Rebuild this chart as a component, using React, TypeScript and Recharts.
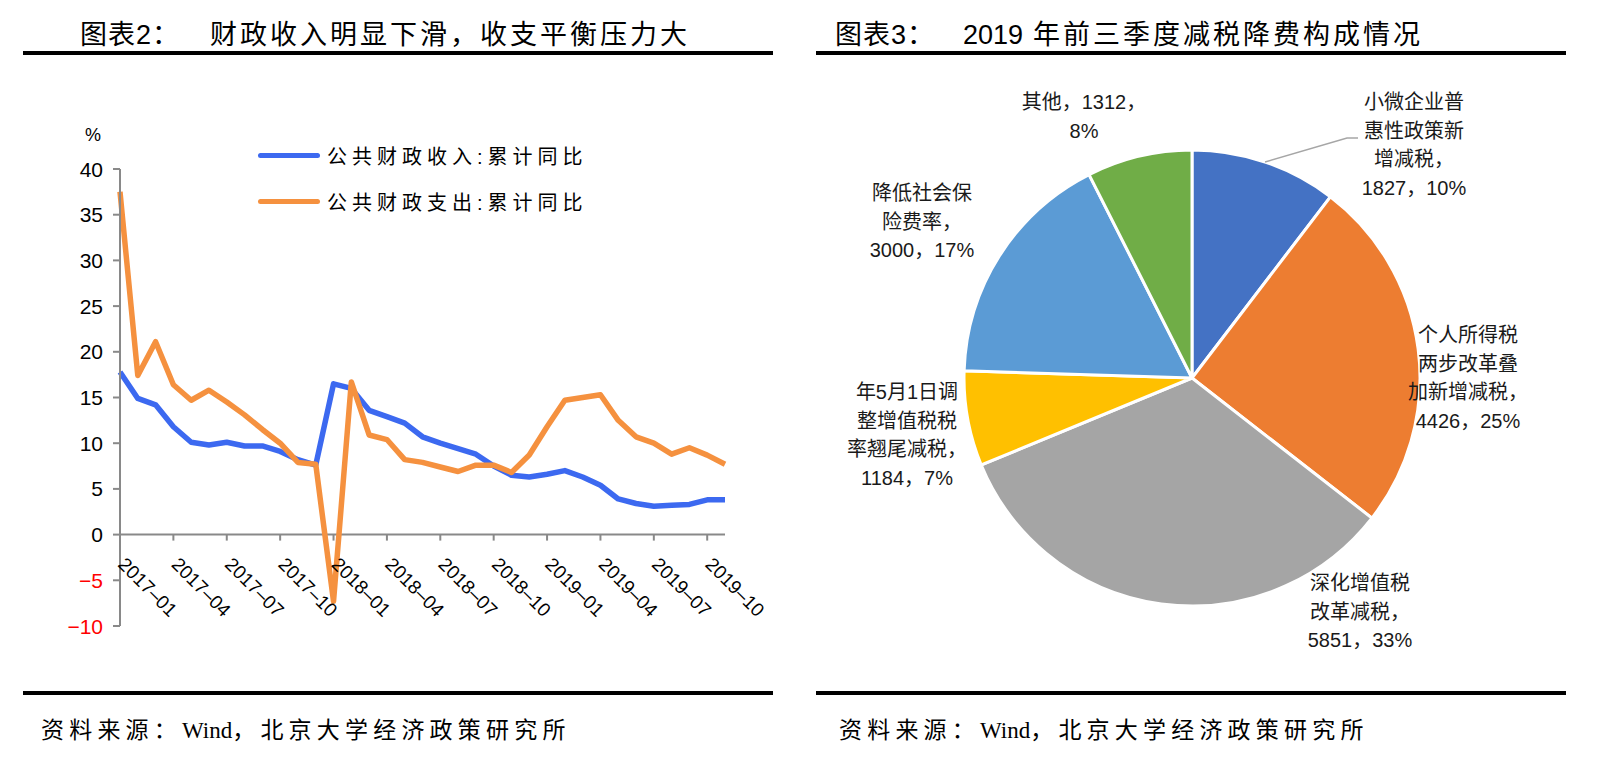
import { LineChart, Line, XAxis, YAxis, ReferenceLine, Legend, PieChart, Pie, Cell } from "recharts";

// ---- left chart: fiscal revenue / expenditure, cumulative yoy (%) ----
const MONTHS = [
  "2017-01", "2017-02", "2017-03", "2017-04", "2017-05", "2017-06", "2017-07", "2017-08", "2017-09", "2017-10", "2017-11", "2017-12",
  "2018-01", "2018-02", "2018-03", "2018-04", "2018-05", "2018-06", "2018-07", "2018-08", "2018-09", "2018-10", "2018-11", "2018-12",
  "2019-01", "2019-02", "2019-03", "2019-04", "2019-05", "2019-06", "2019-07", "2019-08", "2019-09", "2019-10", "2019-11",
];
const REVENUE_YOY = [
  17.8, 14.9, 14.2, 11.8, 10.1, 9.8, 10.1, 9.7, 9.7, 9.1, 8.2, 7.6,
  16.5, 16.0, 13.6, 12.9, 12.2, 10.7, 10.0, 9.4, 8.8, 7.5, 6.5, 6.3,
  6.6, 7.0, 6.3, 5.4, 3.9, 3.4, 3.1, 3.2, 3.3, 3.8, 3.8,
];
const EXPENDITURE_YOY = [
  37.5, 17.4, 21.1, 16.4, 14.7, 15.8, 14.5, 13.1, 11.5, 10.0, 7.9, 7.7,
  -7.3, 16.7, 10.9, 10.4, 8.2, 7.9, 7.4, 6.9, 7.6, 7.6, 6.8, 8.7,
  11.8, 14.7, 15.0, 15.3, 12.5, 10.7, 10.0, 8.8, 9.5, 8.7, 7.7,
];
const Y_TICKS = [-10, -5, 0, 5, 10, 15, 20, 25, 30, 35, 40];
const SERIES_NAMES = ["公共财政收入:累计同比", "公共财政支出:累计同比"];

// ---- right chart: 2019 Q1-Q3 tax & fee cuts ----
const PIE_VALUES = [1827, 4426, 5851, 1184, 3000, 1312];
const PIE_PERCENTS = [10, 25, 33, 7, 17, 8];
const PIE_NAME_LINES = [
  ["小微企业普", "惠性政策新", "增减税，"],
  ["个人所得税", "两步改革叠", "加新增减税，"],
  ["深化增值税", "改革减税，"],
  ["年5月1日调", "整增值税税", "率翘尾减税，"],
  ["降低社会保", "险费率，"],
  ["其他，"],
];
const PIE_COLORS = ["#4472C4", "#ED7D31", "#A5A5A5", "#FFC000", "#5B9BD5", "#70AD47"];

const FONT = '"Liberation Sans", "Noto Sans CJK SC", sans-serif';
const AXIS = "#898989";

// plot box of the line chart (px inside its svg)
const PLOT_TOP = 169;
const PLOT_BOTTOM = 626;
const Y_MIN = -10;
const Y_MAX = 40;
const ZERO_Y = PLOT_TOP + (Y_MAX / (Y_MAX - Y_MIN)) * (PLOT_BOTTOM - PLOT_TOP);

const lineData = MONTHS.map((m, i) => ({
  month: m,
  revenue: REVENUE_YOY[i],
  expenditure: EXPENDITURE_YOY[i],
}));

const pieData = PIE_VALUES.map((v, i) => ({ name: PIE_NAME_LINES[i].join(""), value: v }));

// label centre offsets from pie centre (x, first-line y)
const PIE_LABEL_POS: [number, number][] = [
  [222, -276],
  [276, -43],
  [168, 205],
  [-285, 14],
  [-270, -185],
  [-108, -276],
];
const LABEL_LINE_H = 28.5;

function MonthTick(props: any) {
  const { x, payload } = props;
  const ax = x - 3;
  const ay = ZERO_Y + 31;
  return (
    <g>
      <line x1={x} y1={ZERO_Y} x2={x} y2={ZERO_Y + 6} stroke={AXIS} strokeWidth={2} />
      <text
        x={ax}
        y={ay}
        transform={`rotate(45, ${ax}, ${ay})`}
        fontSize={19}
        fontFamily={FONT}
        fill="#000"
        textAnchor="start"
      >
        {String(payload.value).replace("-", "–")}
      </text>
    </g>
  );
}

function ValueTick(props: any) {
  const { x, y, payload } = props;
  return (
    <text
      x={x}
      y={y}
      textAnchor="end"
      dominantBaseline="central"
      fontSize={21}
      fontFamily={FONT}
      fill={payload.value < 0 ? "#FF0000" : "#000"}
    >
      {payload.value < 0 ? `−${Math.abs(payload.value)}` : payload.value}
    </text>
  );
}

function renderLegend({ payload }: any) {
  // keep series order (Recharts sorts legend items by name otherwise)
  const items = [...(payload || [])].sort(
    (a: any, b: any) => SERIES_NAMES.indexOf(a.value) - SERIES_NAMES.indexOf(b.value)
  );
  return (
    <div style={{ fontFamily: FONT }}>
      {items.map((entry: any) => (
        <div key={entry.value} style={{ display: "flex", alignItems: "center", height: 46 }}>
          <span
            style={{
              display: "inline-block",
              width: 62,
              height: 5,
              borderRadius: 3,
              background: entry.color,
              marginRight: 7,
            }}
          />
          <span style={{ fontSize: 20, letterSpacing: 5, color: "#000" }}>{entry.value}</span>
        </div>
      ))}
    </div>
  );
}

function pieLabelLines(i: number): string[] {
  const names = PIE_NAME_LINES[i];
  if (names.length === 1) {
    return [`${names[0]}${PIE_VALUES[i]}，`, `${PIE_PERCENTS[i]}%`];
  }
  return [...names, `${PIE_VALUES[i]}，${PIE_PERCENTS[i]}%`];
}

function renderPieLabel(props: any) {
  const { cx, cy, midAngle, outerRadius, index } = props;
  const [ox, oy] = PIE_LABEL_POS[index];
  const lines = pieLabelLines(index);
  const rad = (Math.PI / 180) * midAngle;
  // only the first slice gets a leader line in the original
  const leader =
    index === 0 ? (
      <polyline
        points={`${cx + outerRadius * Math.cos(rad)},${cy - outerRadius * Math.sin(rad)} ${cx + 155},${cy - 240} ${cx + 166},${cy - 240}`}
        fill="none"
        stroke="#A6A6A6"
        strokeWidth={1.5}
      />
    ) : null;
  return (
    <g key={`lbl-${index}`}>
      {leader}
      <text textAnchor="middle" fontSize={20} fontFamily={FONT} fill="#1a1a1a">
        {lines.map((l, k) => (
          <tspan key={k} x={cx + ox} y={cy + oy + k * LABEL_LINE_H} dominantBaseline="central">
            {l}
          </tspan>
        ))}
      </text>
    </g>
  );
}

const bar = (left: number, top: number, width: number) => (
  <div style={{ position: "absolute", left, top, width, height: 4, background: "#000" }} />
);

export default function App() {
  return (
    <div
      style={{
        position: "absolute",
        left: 0,
        top: 0,
        width: 1607,
        height: 764,
        background: "#fff",
        fontFamily: FONT,
        color: "#000",
        overflow: "hidden",
      }}
    >
      {/* titles */}
      <div style={{ position: "absolute", left: 80, top: 19, fontSize: 27, lineHeight: "32px", letterSpacing: 1 }}>
        图表2：
      </div>
      <div style={{ position: "absolute", left: 210, top: 19, fontSize: 27, lineHeight: "32px", letterSpacing: 3 }}>
        财政收入明显下滑，收支平衡压力大
      </div>
      <div style={{ position: "absolute", left: 835, top: 19, fontSize: 27, lineHeight: "32px", letterSpacing: 1 }}>
        图表3：
      </div>
      <div style={{ position: "absolute", left: 963, top: 19, fontSize: 27, lineHeight: "32px" }}>2019</div>
      <div style={{ position: "absolute", left: 1033, top: 19, fontSize: 27, lineHeight: "32px", letterSpacing: 3 }}>
        年前三季度减税降费构成情况
      </div>
      {bar(23, 51, 750)}
      {bar(816, 51, 750)}

      {/* left: line chart */}
      <div style={{ position: "absolute", left: 0, top: 0 }}>
        <LineChart width={780} height={700} data={lineData} margin={{ top: PLOT_TOP, right: 55, bottom: 44, left: 60 }}>
          <XAxis
            dataKey="month"
            interval={2}
            axisLine={false}
            tickLine={false}
            height={30}
            tick={(p: any) => <MonthTick {...p} />}
          />
          <YAxis
            width={60}
            domain={[Y_MIN, Y_MAX]}
            ticks={Y_TICKS}
            interval={0}
            allowDataOverflow
            axisLine={{ stroke: AXIS, strokeWidth: 2 }}
            tickLine={{ stroke: AXIS, strokeWidth: 2 }}
            tickSize={7}
            tickMargin={10}
            tick={(p: any) => <ValueTick {...p} />}
          />
          <ReferenceLine y={0} stroke={AXIS} strokeWidth={2} />
          <Legend
            layout="horizontal"
            verticalAlign="middle"
            align="center"
            wrapperStyle={{ position: "absolute", left: 258, top: 132, width: 420 }}
            content={renderLegend}
          />
          <Line
            type="linear"
            dataKey="revenue"
            name={SERIES_NAMES[0]}
            stroke="#3C69F0"
            strokeWidth={5.5}
            strokeLinejoin="round"
            dot={false}
            activeDot={false}
            isAnimationActive={false}
          />
          <Line
            type="linear"
            dataKey="expenditure"
            name={SERIES_NAMES[1]}
            stroke="#F5913F"
            strokeWidth={5.5}
            strokeLinejoin="round"
            dot={false}
            activeDot={false}
            isAnimationActive={false}
          />
        </LineChart>
      </div>
      <div style={{ position: "absolute", left: 85, top: 123, fontSize: 18, lineHeight: "24px" }}>%</div>

      {/* right: pie chart */}
      <div style={{ position: "absolute", left: 790, top: 60 }}>
        <PieChart width={810} height={620} margin={{ top: 0, right: 0, bottom: 0, left: 0 }}>
          <Pie
            data={pieData}
            dataKey="value"
            nameKey="name"
            cx={402}
            cy={318}
            outerRadius={228}
            startAngle={90}
            endAngle={-270}
            stroke="#fff"
            strokeWidth={3}
            label={renderPieLabel}
            labelLine={false}
            isAnimationActive={false}
          >
            {pieData.map((d, i) => (
              <Cell key={d.name} fill={PIE_COLORS[i]} />
            ))}
          </Pie>
        </PieChart>
      </div>

      {/* footers */}
      {bar(23, 691, 750)}
      {bar(816, 691, 750)}
      {[41, 839].map((left) => (
        <div
          key={left}
          style={{
            position: "absolute",
            left,
            top: 716,
            fontSize: 23,
            lineHeight: "28px",
            letterSpacing: 5.2,
            whiteSpace: "nowrap",
          }}
        >
          资料来源：
          <span style={{ fontFamily: '"Liberation Serif", serif', letterSpacing: 0 }}>Wind</span>
          ，北京大学经济政策研究所
        </div>
      ))}
    </div>
  );
}
